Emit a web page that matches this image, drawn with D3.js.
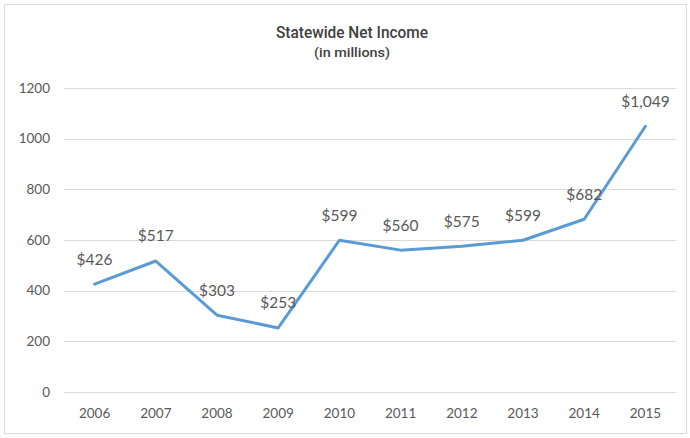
<!DOCTYPE html>
<html>
<head>
<meta charset="utf-8">
<script src="https://cdn.jsdelivr.net/npm/d3@7"></script>
<style>
  html, body { margin: 0; padding: 0; background: #fff; }
  svg { display: block; }
</style>
</head>
<body>
<svg id="chart" width="690" height="438"></svg>
<script>
// Statewide net income by year, in millions of dollars
const years = ["2006", "2007", "2008", "2009", "2010", "2011", "2012", "2013", "2014", "2015"];
const netIncome = [426, 517, 303, 253, 599, 560, 575, 599, 682, 1049];
const yTicks = [0, 200, 400, 600, 800, 1000, 1200];

const W = 690, H = 438;
const margin = { top: 88, right: 14, bottom: 46, left: 64 };
const svg = d3.select("#chart");

// outer chart frame
svg.append("rect")
  .attr("x", 4.5).attr("y", 4.5)
  .attr("width", W - 8).attr("height", H - 9)
  .attr("fill", "#fff").attr("stroke", "#d9d9d9").attr("stroke-width", 1);

const x = d3.scaleBand().domain(years).range([margin.left, W - margin.right]);
const y = d3.scaleLinear().domain([0, 1200]).range([392, margin.top]);

// horizontal gridlines
svg.append("g")
  .selectAll("line")
  .data(yTicks)
  .join("line")
  .attr("x1", margin.left).attr("x2", W - margin.right)
  .attr("y1", d => Math.round(y(d)) + 0.5).attr("y2", d => Math.round(y(d)) + 0.5)
  .attr("stroke", "#d9d9d9").attr("stroke-width", 1);

const font = "Lato, 'Open Sans', sans-serif";

// y axis labels
const yAxis = svg.append("g")
  .attr("transform", `translate(${margin.left - 14},0)`)
  .call(d3.axisLeft(y).tickValues(yTicks).tickFormat(d3.format("d")).tickSize(0).tickPadding(0));
yAxis.select(".domain").remove();
yAxis.selectAll("text")
  .attr("fill", "#595959").style("font-family", font).style("font-size", "13.5px");

// x axis labels
const xAxis = svg.append("g")
  .attr("transform", `translate(0,${y(0) + 12})`)
  .call(d3.axisBottom(x).tickSize(0).tickPadding(4));
xAxis.select(".domain").remove();
xAxis.selectAll("text")
  .attr("fill", "#595959").style("font-family", font).style("font-size", "13.5px");

const cx = d => x(d) + x.bandwidth() / 2;
const points = years.map((yr, i) => ({ year: yr, value: netIncome[i] }));

// income line
svg.append("path")
  .datum(points)
  .attr("fill", "none")
  .attr("stroke", "#5b9bd5")
  .attr("stroke-width", 3)
  .attr("stroke-linejoin", "round")
  .attr("stroke-linecap", "round")
  .attr("d", d3.line().x(d => cx(d.year)).y(d => y(d.value)));

// value labels
const fmt = d3.format("$,");
svg.append("g")
  .selectAll("text")
  .data(points)
  .join("text")
  .attr("x", d => cx(d.year))
  .attr("y", d => y(d.value) - 25)
  .attr("dy", "0.35em")
  .attr("text-anchor", "middle")
  .attr("fill", "#595959")
  .style("font-family", font)
  .style("font-size", "15.5px")
  .text(d => fmt(d.value));

// titles (condensed)
svg.append("text")
  .attr("x", 352).attr("y", 38)
  .attr("text-anchor", "middle")
  .attr("fill", "#404040")
  .attr("textLength", 152)
  .attr("lengthAdjust", "spacingAndGlyphs")
  .style("font-family", "Roboto, sans-serif")
  .style("font-weight", "500")
  .style("font-size", "16px")
  .text("Statewide Net Income");
svg.append("text")
  .attr("x", 352).attr("y", 57)
  .attr("text-anchor", "middle")
  .attr("fill", "#404040")
  .attr("textLength", 76)
  .attr("lengthAdjust", "spacingAndGlyphs")
  .style("font-family", "Roboto, sans-serif")
  .style("font-weight", "500")
  .style("font-size", "13px")
  .text("(in millions)");
</script>
</body>
</html>
